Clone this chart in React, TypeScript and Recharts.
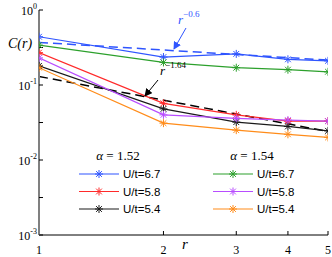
import React from "react"
import { LineChart, Line, XAxis, YAxis } from "recharts"

// distance r
const R = [1, 2, 3, 4, 5]

// alpha = 1.52
const A152_U67 = [0.44, 0.236, 0.26, 0.22, 0.21]
const A152_U58 = [0.27, 0.057, 0.04, 0.033, 0.033]
const A152_U54 = [0.18, 0.048, 0.032, 0.028, 0.0245]

// alpha = 1.54
const A154_U67 = [0.34, 0.2, 0.17, 0.16, 0.15]
const A154_U58 = [0.23, 0.04, 0.036, 0.034, 0.033]
const A154_U54 = [0.17, 0.031, 0.025, 0.022, 0.02]

// guide lines (end points)
const FIT_R = [1, 5]
const FIT_06 = [0.37, 0.215]
const FIT_164 = [0.13, 0.024]

const X_TICKS = [1, 2, 3, 4, 5]
const Y_TICKS = [0.001, 0.00316, 0.01, 0.0316, 0.1, 0.316, 1]
const Y_LABELS: Record<string, string> = { "0.001": "-3", "0.01": "-2", "0.1": "-1", "1": "0" }

const SERIES = [
  { key: "a152_u67", name: "U/t=6.7", group: "1.52", color: "#2f55ff", values: A152_U67 },
  { key: "a152_u58", name: "U/t=5.8", group: "1.52", color: "#ff2a2a", values: A152_U58 },
  { key: "a152_u54", name: "U/t=5.4", group: "1.52", color: "#1a1a1a", values: A152_U54 },
  { key: "a154_u67", name: "U/t=6.7", group: "1.54", color: "#2ca02c", values: A154_U67 },
  { key: "a154_u58", name: "U/t=5.8", group: "1.54", color: "#b84dff", values: A154_U58 },
  { key: "a154_u54", name: "U/t=5.4", group: "1.54", color: "#ff8c1a", values: A154_U54 },
]

const data = R.map((r, i) => {
  const row: any = { r }
  SERIES.forEach((s) => (row[s.key] = s.values[i]))
  return row
})

const fit06 = FIT_R.map((r, i) => ({ r, v: FIT_06[i] }))
const fit164 = FIT_R.map((r, i) => ({ r, v: FIT_164[i] }))

const SERIF = "'Liberation Serif', 'DejaVu Serif', serif"
const SANS = "'Liberation Sans', Arial, sans-serif"

const StarMark = ({ cx, cy, color, size = 4 }: { cx: number; cy: number; color: string; size?: number }) => {
  const d = size * 0.72
  return (
    <g stroke={color} strokeWidth={1}>
      <line x1={cx - size} y1={cy} x2={cx + size} y2={cy} />
      <line x1={cx} y1={cy - size} x2={cx} y2={cy + size} />
      <line x1={cx - d} y1={cy - d} x2={cx + d} y2={cy + d} />
      <line x1={cx - d} y1={cy + d} x2={cx + d} y2={cy - d} />
    </g>
  )
}

const starDot = (color: string) => (props: any) => {
  if (props.cx == null || props.cy == null) return <g key={props.index} />
  return <StarMark key={props.index} cx={props.cx} cy={props.cy} color={color} />
}

const XTick = (props: any) => {
  const { x, y, payload } = props
  return (
    <text x={x} y={y + 19} textAnchor="middle" fontFamily={SERIF} fontSize={12} fill="#000">
      {payload.value}
    </text>
  )
}

const YTick = (props: any) => {
  const { x, y, payload } = props
  const exp = Y_LABELS[String(payload.value)]
  if (!exp) return null
  return (
    <text x={x} y={y + 5} textAnchor="end" fontFamily={SERIF} fontSize={12} fill="#000">
      <tspan>10</tspan>
      <tspan dy={-6} fontSize={8}>
        {exp}
      </tspan>
    </text>
  )
}

const LegendGroup = ({ alpha, items, lineX, top }: any) => (
  <g>
    <text x={lineX + 39} y={top + 5} textAnchor="middle" fontFamily={SERIF} fontSize={13}>
      <tspan fontStyle="italic">α</tspan> = {alpha}
    </text>
    {items.map((s: any, i: number) => {
      const y = top + 19 + i * 17.5
      return (
        <g key={s.key}>
          <line x1={lineX} y1={y} x2={lineX + 40} y2={y} stroke={s.color} strokeWidth={1.2} />
          <StarMark cx={lineX + 20} cy={y} color={s.color} />
          <text x={lineX + 44} y={y + 4} fontFamily={SANS} fontSize={11.5} fill="#000">
            {s.name}
          </text>
        </g>
      )
    })}
  </g>
)

export default function App() {
  return (
    <div style={{ position: "absolute", left: 0, top: 0, width: 332, height: 257, background: "#fff" }}>
      <LineChart width={332} height={257} data={data} margin={{ top: 10, right: 4, left: 0, bottom: 0 }}>
        <XAxis
          dataKey="r"
          type="number"
          scale="log"
          domain={[1, 5]}
          ticks={X_TICKS}
          allowDataOverflow
          height={22}
          tickSize={-4}
          tickMargin={4}
          tick={<XTick />}
          axisLine={{ stroke: "#000" }}
          tickLine={{ stroke: "#000" }}
        />
        <XAxis
          xAxisId="top"
          orientation="top"
          dataKey="r"
          type="number"
          scale="log"
          domain={[1, 5]}
          ticks={X_TICKS}
          allowDataOverflow
          height={0}
          tickSize={-4}
          tick={false}
          axisLine={{ stroke: "#000" }}
          tickLine={{ stroke: "#000" }}
        />
        <YAxis
          type="number"
          scale="log"
          domain={[0.001, 1]}
          ticks={Y_TICKS}
          allowDataOverflow
          width={39}
          tickSize={-4}
          tickMargin={6}
          tick={<YTick />}
          axisLine={{ stroke: "#808080", strokeWidth: 2 }}
          tickLine={{ stroke: "#000" }}
        />
        <YAxis
          yAxisId="right"
          orientation="right"
          type="number"
          scale="log"
          domain={[0.001, 1]}
          ticks={Y_TICKS}
          allowDataOverflow
          width={0}
          tickSize={-4}
          tick={false}
          axisLine={{ stroke: "#000" }}
          tickLine={{ stroke: "#000" }}
        />
        <Line
          data={fit06}
          dataKey="v"
          stroke="#2f55ff"
          strokeWidth={1.5}
          strokeDasharray="9 5"
          dot={false}
          legendType="none"
          isAnimationActive={false}
        />
        <Line
          data={fit164}
          dataKey="v"
          stroke="#000"
          strokeWidth={1.5}
          strokeDasharray="9 5"
          dot={false}
          legendType="none"
          isAnimationActive={false}
        />
        {SERIES.map((s) => (
          <Line
            key={s.key}
            dataKey={s.key}
            name={s.name}
            stroke={s.color}
            strokeWidth={1.2}
            dot={starDot(s.color)}
            activeDot={false}
            isAnimationActive={false}
          />
        ))}
      </LineChart>
      <svg
        width={332}
        height={257}
        style={{ position: "absolute", left: 0, top: 0, pointerEvents: "none", overflow: "visible" }}
      >
        <defs>
          <marker id="ahB" markerWidth="8" markerHeight="8" refX="7" refY="4" orient="auto" markerUnits="userSpaceOnUse">
            <path d="M0,0 L8,4 L0,8 Z" fill="#2f55ff" />
          </marker>
          <marker id="ahK" markerWidth="8" markerHeight="8" refX="7" refY="4" orient="auto" markerUnits="userSpaceOnUse">
            <path d="M0,0 L8,4 L0,8 Z" fill="#000" />
          </marker>
        </defs>
        <text x={20} y={48} textAnchor="middle" fontFamily={SERIF} fontSize={14} fontStyle="italic">
          C(r)
        </text>
        <text x={185} y={249} textAnchor="middle" fontFamily={SERIF} fontSize={15} fontStyle="italic">
          r
        </text>
        <text x={178} y={24} fontFamily={SERIF} fontSize={13} fill="#2f55ff">
          <tspan fontStyle="italic">r</tspan>
          <tspan dy={-7} fontSize={9}>−0.6</tspan>
        </text>
        <line x1={186} y1={28} x2={174} y2={49} stroke="#2f55ff" strokeWidth={1} markerEnd="url(#ahB)" />
        <text x={160} y={75} fontFamily={SERIF} fontSize={13} fill="#000">
          <tspan fontStyle="italic">r</tspan>
          <tspan dy={-7} fontSize={9}>−1.64</tspan>
        </text>
        <line x1={158} y1={80} x2={145} y2={96} stroke="#000" strokeWidth={1} markerEnd="url(#ahK)" />
        <LegendGroup alpha="1.52" items={SERIES.filter((s) => s.group === "1.52")} lineX={79} top={155} />
        <LegendGroup alpha="1.54" items={SERIES.filter((s) => s.group === "1.54")} lineX={213} top={155} />
      </svg>
    </div>
  )
}
